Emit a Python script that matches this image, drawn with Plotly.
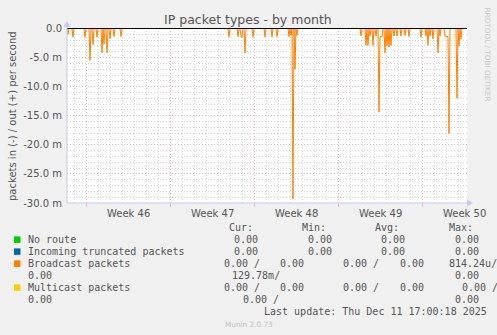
import pandas as pd
import plotly.graph_objects as go

# ---------------- data ----------------
title_text = "IP packet types - by month"
y_axis_title = "packets in (-) / out (+) per second"
range_start = "2025-11-08 10:00"
range_end = "2025-12-11 18:00"
last_sample = "2025-12-11 16:00"

# Broadcast packets (in, plotted negative), milli-packets/s, 2-hour samples
spike_times = [
    "2025-11-08 12:00", "2025-11-08 22:00", "2025-11-09 22:00", "2025-11-10 08:00",
    "2025-11-10 14:00", "2025-11-10 22:00", "2025-11-11 08:00", "2025-11-11 12:00",
    "2025-11-11 18:00", "2025-11-12 00:00", "2025-11-12 08:00", "2025-11-12 22:00",
    "2025-11-21 22:00", "2025-11-22 16:00", "2025-11-22 22:00", "2025-11-23 00:00",
    "2025-11-23 06:00", "2025-11-23 22:00", "2025-11-24 22:00", "2025-11-25 12:00",
    "2025-11-25 22:00", "2025-11-26 22:00", "2025-11-27 02:00", "2025-11-27 06:00",
    "2025-11-27 10:00", "2025-11-27 14:00",
    "2025-12-02 22:00", "2025-12-03 08:00", "2025-12-03 12:00", "2025-12-03 16:00",
    "2025-12-03 22:00", "2025-12-04 04:00", "2025-12-04 10:00", "2025-12-04 12:00",
    "2025-12-04 14:00", "2025-12-04 16:00", "2025-12-04 22:00", "2025-12-05 02:00",
    "2025-12-05 06:00", "2025-12-05 10:00", "2025-12-05 16:00", "2025-12-05 22:00",
    "2025-12-06 06:00", "2025-12-06 14:00", "2025-12-06 22:00",
    "2025-12-07 22:00", "2025-12-08 08:00", "2025-12-08 12:00", "2025-12-08 16:00",
    "2025-12-08 22:00", "2025-12-09 08:00", "2025-12-09 12:00", "2025-12-09 22:00",
    "2025-12-10 00:00", "2025-12-10 02:00", "2025-12-10 04:00", "2025-12-10 06:00",
    "2025-12-10 22:00", "2025-12-11 02:00", "2025-12-11 06:00",
]
spike_values = [
    -1.0, -1.5, -1.5, -5.5,
    -2.8, -1.5, -4.2, -2.7,
    -4.2, -1.8, -1.4, -1.4,
    -1.5, -1.4, -1.4, -1.6,
    -4.2, -1.5, -1.5, -1.5,
    -1.4, -1.4, -1.2, -29.3,
    -7.0, -1.2,
    -1.3, -2.9, -2.9, -1.3,
    -2.9, -1.3, -14.4, -1.4,
    -1.4, -1.4, -4.2, -3.0,
    -3.2, -2.9, -1.3, -1.3,
    -1.3, -1.2, -1.4,
    -1.5, -1.3, -2.9, -1.3,
    -1.8, -4.2, -1.3, -1.3,
    -1.4, -1.4, -1.4, -18.1,
    -12.0, -3.0, -1.8,
]

y_tick_vals = [0, -5, -10, -15, -20, -25, -30]
y_tick_text = ["0.0", "-5.0 m", "-10.0 m", "-15.0 m", "-20.0 m", "-25.0 m", "-30.0 m"]
week_label_dates = ["2025-11-13 12:00", "2025-11-20 12:00", "2025-11-27 12:00",
                    "2025-12-04 12:00", "2025-12-11 12:00"]
week_labels = ["Week 46", "Week 47", "Week 48", "Week 49", "Week 50"]

legend_names = ["No route", "Incoming truncated packets", "Broadcast packets", "Multicast packets"]
legend_colors = ["#00CC00", "#0066B3", "#FF8000", "#FFCC00"]
last_update = "Last update: Thu Dec 11 17:00:18 2025"
munin_version = "Munin 2.0.73"

# ---------------- figure ----------------
W, H = 497, 335
L, R, T, B = 67, 30, 28, 132
PW, PH = W - L - R, H - T - B


def px(x):
    return (x - L) / PW


def py(y):
    return (H - B - y) / PH


times = pd.date_range(range_start, last_sample, freq="2h")
series = pd.Series(0.0, index=times)
for t, v in zip(spike_times, spike_values):
    series[pd.Timestamp(t)] = v

fig = go.Figure()
fig.add_trace(go.Scatter(x=series.index, y=series.values, mode="lines",
                         line=dict(color="#FF8000", width=1), showlegend=False,
                         hoverinfo="skip"))
# zero (out) line
fig.add_trace(go.Scatter(x=[series.index[0], range_end], y=[0, 0], mode="lines",
                         line=dict(color="#000000", width=1), showlegend=False,
                         hoverinfo="skip"))

grid_grey = "#D6D6D6"
grid_red = "#EBB0B0"
fig.update_xaxes(type="date", range=[range_start, range_end],
                 showgrid=True, gridcolor=grid_red, griddash="1px,2px", gridwidth=1,
                 tick0="2025-11-10", dtick=7 * 86400000, showticklabels=False,
                 ticks="outside", ticklen=3, tickcolor=grid_red,
                 minor=dict(dtick=86400000, tick0="2025-11-10", showgrid=True,
                            gridcolor=grid_grey, griddash="1px,2px", gridwidth=1),
                 zeroline=False, showline=False, fixedrange=True)
fig.update_yaxes(range=[-30, 0.08], tickvals=y_tick_vals, ticktext=y_tick_text,
                 showgrid=True, gridcolor=grid_red, griddash="1px,2px", gridwidth=1,
                 minor=dict(dtick=1, tick0=0, showgrid=True, gridcolor=grid_grey,
                            griddash="1px,2px", gridwidth=1),
                 ticks="", ticklabelstandoff=4,
                 tickfont=dict(family="DejaVu Sans", size=10, color="#555555"),
                 zeroline=False, showline=False, fixedrange=True)

annotations = []
shapes = []
# title
annotations.append(dict(text=title_text, x=px(248), y=py(19), xref="paper", yref="paper",
                        showarrow=False, xanchor="center", yanchor="middle",
                        font=dict(family="DejaVu Sans", size=12.5, color="#555555")))
# y-axis title
annotations.append(dict(text=y_axis_title, x=px(12), y=py(116), xref="paper", yref="paper",
                        showarrow=False, textangle=-90, xanchor="center", yanchor="middle",
                        font=dict(family="DejaVu Sans", size=10, color="#555555")))
# right watermark
annotations.append(dict(text="RRDTOOL / TOBI OETIKER", x=px(487.5), y=py(54), xref="paper",
                        yref="paper", showarrow=False, textangle=90, xanchor="center",
                        yanchor="middle",
                        font=dict(family="DejaVu Sans", size=7.3, color="#C8C8C8")))
# week labels
for d, lab in zip(week_label_dates, week_labels):
    annotations.append(dict(text=lab, x=d, y=py(213), xref="x", yref="paper",
                            showarrow=False, xanchor="center", yanchor="middle",
                            font=dict(family="DejaVu Sans", size=10, color="#555555")))

# axes arrows
axis_col = "#C8C8F0"
shapes.append(dict(type="line", xref="paper", yref="paper", x0=px(67), x1=px(468),
                   y0=py(203), y1=py(203), line=dict(color=axis_col, width=1)))
shapes.append(dict(type="line", xref="paper", yref="paper", x0=px(67), x1=px(67),
                   y0=py(203), y1=py(26), line=dict(color=axis_col, width=1)))
shapes.append(dict(type="path", xref="paper", yref="paper",
                   path=f"M {px(467)} {py(199.5)} L {px(473)} {py(203)} L {px(467)} {py(206.5)} Z",
                   fillcolor=axis_col, line=dict(width=0)))
shapes.append(dict(type="path", xref="paper", yref="paper",
                   path=f"M {px(63.5)} {py(27)} L {px(67)} {py(21)} L {px(70.5)} {py(27)} Z",
                   fillcolor=axis_col, line=dict(width=0)))

# legend block
mono = dict(family="DejaVu Sans Mono", size=10, color="#555555")


def txt(s, x, y, anchor="left"):
    annotations.append(dict(text=s, x=px(x), y=py(y), xref="paper", yref="paper",
                            showarrow=False, xanchor=anchor, yanchor="middle", font=mono))


row_y = [239.7, 251.7, 263.7, 287.7]
for name, col, y in zip(legend_names, legend_colors, row_y):
    shapes.append(dict(type="rect", xref="paper", yref="paper", x0=px(14), x1=px(20.5),
                       y0=py(y - 3.3), y1=py(y + 3.2), fillcolor=col, line=dict(width=0)))
    txt(name, 26.3, y)

for s, x in zip(["Cur:", "Min:", "Avg:", "Max:"], [226.7, 300, 373.3, 447.3]):
    txt(s, x, 227.7)

for y in row_y[:2]:
    for x in [232.3, 306, 379.3, 452.7]:
        txt("0.00", x, y)

# Broadcast packets
txt("0.00 /", 222.3, 263.7); txt("0.00", 278.3, 263.7); txt("0.00 /", 341, 263.7)
txt("0.00", 397.7, 263.7); txt("814.24u/", 447.3, 263.7)
txt("0.00", 26.3, 275.7); txt("129.78m/", 229.6, 275.7); txt("0.00", 452.7, 275.7)
# Multicast packets
txt("0.00 /", 222.3, 287.7); txt("0.00", 278.3, 287.7); txt("0.00 /", 341, 287.7)
txt("0.00", 397.7, 287.7); txt("0.00 /", 460, 287.7)
txt("0.00", 26.3, 299.7); txt("0.00 /", 241.2, 299.7); txt("0.00", 452.7, 299.7)
txt(last_update, 261.7, 311.7)
annotations.append(dict(text=munin_version, x=px(223), y=py(324), xref="paper", yref="paper",
                        showarrow=False, xanchor="left", yanchor="middle",
                        font=dict(family="DejaVu Sans", size=7.3, color="#C0C0C0")))

fig.update_layout(width=W, height=H, margin=dict(l=L, r=R, t=T, b=B, pad=0),
                  paper_bgcolor="#F0F0F0", plot_bgcolor="#FFFFFF",
                  annotations=annotations, shapes=shapes, showlegend=False)

fig.write_html("out.html", config={"displayModeBar": False})
